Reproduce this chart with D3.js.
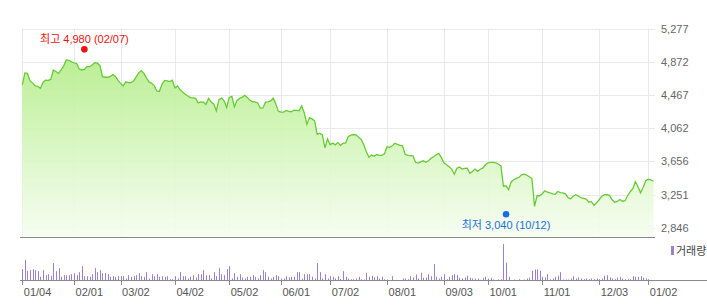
<!DOCTYPE html>
<html><head><meta charset="utf-8">
<script src="https://cdn.jsdelivr.net/npm/d3@7"></script>
<style>
html,body{margin:0;padding:0;background:#fff;}
svg{display:block;font-family:"Liberation Sans",Arial,"Noto Sans CJK KR",sans-serif;}
</style></head>
<body><svg id="c" width="707" height="305"></svg>
<script>
// closing prices per trading day
const prices = [4588,4735,4729,4637,4613,4576,4570,4548,4619,4646,4643,4655,4771,4753,4729,4771,4820,4893,4887,4869,
4859,4850,4783,4771,4777,4811,4811,4832,4860,4854,4826,4690,4682,4682,4692,4716,4692,4643,4607,4576,
4627,4616,4616,4637,4686,4735,4763,4729,4674,4625,4609,4580,4515,4509,4595,4643,4637,4630,4646,4552,
4576,4528,4503,4475,4454,4434,4430,4424,4369,4381,4378,4351,4424,4381,4357,4272,4406,4430,4393,4314,
4436,4448,4320,4400,4424,4439,4461,4436,4400,4381,4381,4369,4305,4308,4378,4381,4393,4426,4357,4266,
4256,4256,4278,4266,4259,4280,4278,4272,4333,4247,4107,4190,4174,4150,3985,4000,3979,3821,3930,3857,
3878,3857,3885,3851,3876,3882,3958,3976,3983,3979,3949,3924,3857,3772,3705,3732,3717,3739,3729,3729,
3748,3833,3827,3845,3876,3863,3851,3845,3742,3729,3726,3723,3644,3634,3650,3662,3644,3662,3693,3711,
3735,3754,3701,3638,3614,3589,3561,3498,3573,3586,3561,3571,3573,3510,3532,3561,3534,3559,3573,3614,
3638,3642,3642,3638,3620,3601,3352,3358,3309,3407,3431,3447,3461,3492,3500,3486,3467,3446,3108,3236,
3236,3260,3297,3279,3270,3260,3254,3288,3275,3270,3260,3212,3199,3230,3248,3230,3212,3203,3196,3157,
3163,3120,3151,3187,3230,3248,3248,3240,3187,3157,3166,3190,3169,3175,3236,3285,3321,3407,3346,3272,
3339,3419,3437,3431,3413];
// trading volume per day (thousand shares)
const volumes = [113,203,97,103,113,103,93,37,103,53,63,47,173,93,123,37,53,53,53,63,
73,53,83,143,43,43,37,63,123,83,103,73,73,63,37,43,37,43,43,43,
20,53,37,43,53,73,43,37,83,20,63,43,63,37,43,37,43,13,13,43,
20,83,43,43,20,37,53,30,63,63,103,53,53,20,83,43,123,63,53,113,
143,20,73,37,63,30,20,37,37,53,37,20,53,103,83,37,20,37,53,43,
20,20,43,30,37,37,83,83,20,63,63,63,37,20,173,83,20,63,20,43,
37,20,43,15,93,37,20,13,13,20,37,13,10,77,37,47,30,43,20,37,
13,10,5,43,5,5,5,20,20,13,43,30,60,20,77,27,30,63,43,163,
37,20,37,63,13,37,53,63,53,27,20,30,47,27,20,20,20,7,27,37,
20,27,10,5,10,13,363,177,37,5,10,5,13,5,10,20,27,97,110,110,
97,37,30,63,10,20,37,47,83,10,10,10,20,43,20,30,20,13,20,13,
20,13,20,13,20,47,53,30,20,13,30,37,20,13,13,13,43,37,37,43,
27,20,13,0,0];
const tickIndex = [0,20,38,59,80,100,119,141,163,180,201,223,242];
const tickLabels = ["01/04","02/01","03/02","04/02","05/02","06/01","07/02","08/01","09/03","10/01","11/01","12/03","01/02"];
const yTicks = [2846,3251,3656,4062,4467,4872,5277];
const highPoint = {index:24, value:4980, label:"최고 4,980 (02/07)"};
const lowPoint = {index:187, value:3040, label:"최저 3,040 (10/12)"};
const volumeLabel = "거래량";

const svg = d3.select("#c");
const L = 22.3, R = 653.5, plotR = 655, plotTop = 28.5, plotBot = 237;
const x = d3.scaleLinear().domain([0, prices.length-1]).range([L, R]);
const y = d3.scaleLinear().domain([2846, 5277]).range([227.7, 28.5]);
const vy = d3.scaleLinear().domain([0, d3.max(volumes)]).range([280.5, 244]);

const defs = svg.append("defs");
const g = defs.append("linearGradient").attr("id","fillG").attr("gradientUnits","userSpaceOnUse")
  .attr("x1",0).attr("x2",0).attr("y1",plotTop).attr("y2",plotBot);
g.append("stop").attr("offset","0").attr("stop-color","#a9e87a");
g.append("stop").attr("offset","0.45").attr("stop-color","#cdf4b0");
g.append("stop").attr("offset","1").attr("stop-color","#f6fdf1");

// gridlines
svg.append("g").selectAll("line").data(yTicks).join("line")
  .attr("x1",L-0.3).attr("x2",plotR).attr("y1",d=>Math.round(y(d))+0.5).attr("y2",d=>Math.round(y(d))+0.5)
  .attr("stroke","#e9e9e9");
svg.append("g").selectAll("line").data(tickIndex).join("line")
  .attr("x1",d=>Math.round(x(d))+0.5).attr("x2",d=>Math.round(x(d))+0.5)
  .attr("y1",plotTop).attr("y2",plotBot).attr("stroke","#e9e9e9");

// area + line
const area = d3.area().x((d,i)=>x(i)).y0(plotBot).y1(d=>y(d));
svg.append("path").datum(prices).attr("d",area).attr("fill","url(#fillG)").attr("opacity",0.92);
const line = d3.line().x((d,i)=>x(i)).y(d=>y(d));
svg.append("path").datum(prices).attr("d",line).attr("fill","none").attr("stroke","#66cc33").attr("stroke-width",1.3);

// axis line
svg.append("line").attr("x1",20).attr("x2",plotR).attr("y1",plotBot+0.5).attr("y2",plotBot+0.5).attr("stroke","#8a8a8a");

// y labels
svg.append("g").selectAll("text").data(yTicks).join("text")
  .attr("x",661).attr("y",d=>y(d)+4).attr("font-size",11).attr("fill","#666")
  .text(d=>d3.format(",")(d));

// high / low markers
const hy = y(highPoint.value)-3.5;
svg.append("circle").attr("cx",x(highPoint.index)).attr("cy",hy).attr("r",3.3).attr("fill","#ee1111");
svg.append("text").attr("x",x(highPoint.index)).attr("y",hy-6.3).attr("text-anchor","middle")
  .attr("font-size",11).attr("fill","#ee1111").text(highPoint.label);
const ly = y(lowPoint.value)+2.5;
svg.append("circle").attr("cx",x(lowPoint.index)).attr("cy",ly).attr("r",3.3).attr("fill","#1a6fe0");
svg.append("text").attr("x",x(lowPoint.index)).attr("y",ly+15).attr("text-anchor","middle")
  .attr("font-size",11).attr("fill","#1a6fe0").text(lowPoint.label);

// volume bars
svg.append("g").selectAll("rect").data(volumes).join("rect")
  .attr("x",(d,i)=>Math.round(x(i))).attr("width",1)
  .attr("y",d=>vy(d)).attr("height",d=>280.5-vy(d)).attr("fill","#9b80cf");
svg.append("line").attr("x1",20).attr("x2",707).attr("y1",280.5).attr("y2",280.5).attr("stroke","#8a8a8a");
svg.append("g").selectAll("line").data(tickIndex).join("line")
  .attr("x1",d=>Math.round(x(d))+0.5).attr("x2",d=>Math.round(x(d))+0.5)
  .attr("y1",280.5).attr("y2",285).attr("stroke","#8a8a8a");
svg.append("g").selectAll("text").data(tickIndex).join("text")
  .attr("x",d=>x(d)+1.5).attr("y",296).attr("font-size",11).attr("fill","#555")
  .text((d,i)=>tickLabels[i]);

// legend
svg.append("rect").attr("x",671).attr("y",246).attr("width",3).attr("height",9).attr("fill","#9b80cf");
svg.append("text").attr("x",676).attr("y",255).attr("font-size",11).attr("fill","#444").text(volumeLabel);
</script></body></html>
